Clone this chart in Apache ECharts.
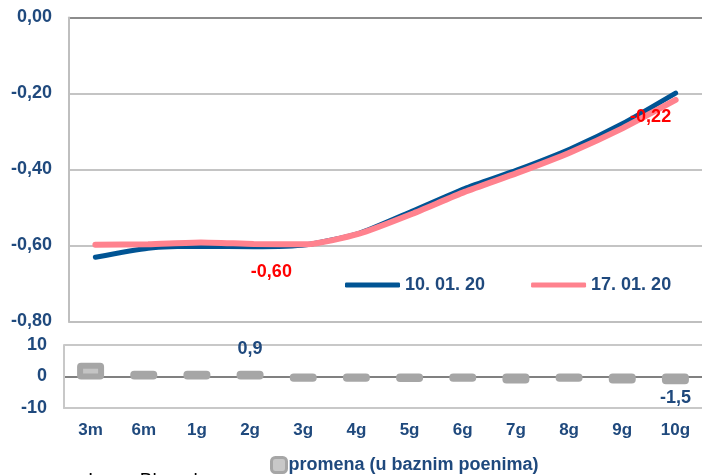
<!DOCTYPE html>
<html>
<head>
<meta charset="utf-8">
<script src="https://cdn.jsdelivr.net/npm/echarts@6/dist/echarts.min.js"></script>
<style>
html,body{margin:0;padding:0;background:#fff;}
#c{width:702px;height:475px;}
</style>
</head>
<body>
<div id="c"></div>
<script>
var categories = ['3m','6m','1g','2g','3g','4g','5g','6g','7g','8g','9g','10g'];
var series1Name = '10. 01. 20';
var series2Name = '17. 01. 20';
var series3Name = 'promena (u baznim poenima)';
var yield1 = [-0.631, -0.607, -0.602, -0.603, -0.598, -0.568, -0.510, -0.450, -0.401, -0.346, -0.279, -0.199];
var yield2 = [-0.598, -0.597, -0.592, -0.596, -0.597, -0.569, -0.517, -0.459, -0.409, -0.355, -0.291, -0.217];
var change = [3.4, 0.9, 0.9, 0.9, -0.7, -0.7, -0.8, -0.7, -1.3, -0.7, -1.3, -1.5];
var lineLabelIdx = [4, 11];
var barLabelIdx = [3, 11];
var sourceText = 'Izvor: Bloomberg';

var FONT = 'Liberation Sans, Arial, sans-serif';
var TXT = '#1F497D';

var pinkData = yield2.map(function (v, i) {
  var o = {value: v};
  if (lineLabelIdx.indexOf(i) >= 0) {
    o.label = {
      show: true, position: 'bottom',
      offset: i === 11 ? [-25, 3] : [-35, 14],
      color: '#FF0000', fontSize: 18, fontWeight: 'bold', fontFamily: FONT,
      formatter: function (p) { return p.value.toFixed(2).replace('.', ','); }
    };
  }
  return o;
});
var labelBarData = change.map(function (v, i) {
  var o = {value: v};
  if (barLabelIdx.indexOf(i) >= 0) {
    o.label = {
      show: true, position: v >= 0 ? 'top' : 'bottom',
      offset: v >= 0 ? [0, -11] : [0, 3],
      color: TXT, fontSize: 18, fontWeight: 'bold', fontFamily: FONT,
      formatter: function (p) { return p.value.toFixed(1).replace('.', ','); }
    };
  }
  return o;
});
var customBarData = change.map(function (v, i) { return [i, v]; });

var chart = echarts.init(document.getElementById('c'), null, {renderer: 'canvas'});
chart.setOption({
  animation: false,
  backgroundColor: '#fff',
  textStyle: {fontFamily: FONT},
  grid: [
    {left: 69, top: 17.5, width: 640, height: 304},
    {left: 64, top: 345, width: 644, height: 63}
  ],
  legend: [
    {
      data: [series1Name, series2Name],
      left: 340, top: 271, icon: 'roundRect',
      itemWidth: 55, itemHeight: 5, itemGap: 46, selectedMode: false,
      textStyle: {color: TXT, fontSize: 18, fontWeight: 'bold', fontFamily: FONT}
    },
    {
      data: [series3Name],
      left: 265, top: 451, icon: 'roundRect',
      itemWidth: 15, itemHeight: 15, itemGap: 4, selectedMode: false,
      itemStyle: {borderWidth: 3, borderColor: '#A6A6A6', color: '#C8C8C8'},
      textStyle: {color: TXT, fontSize: 18, fontWeight: 'bold', fontFamily: FONT, padding: [0, 0, 0, -3]}
    }
  ],
  xAxis: [
    {
      type: 'category', gridIndex: 0, data: categories, boundaryGap: true,
      axisLine: {onZero: false, lineStyle: {color: '#BFBFBF', width: 2}},
      axisTick: {show: false}, axisLabel: {show: false}
    },
    {
      type: 'category', gridIndex: 1, data: categories, boundaryGap: true,
      axisLine: {onZero: false, lineStyle: {color: '#C8C8C8', width: 2}},
      axisTick: {show: false},
      axisLabel: {color: TXT, fontSize: 17, fontWeight: 'bold', fontFamily: FONT, margin: 14}
    }
  ],
  yAxis: [
    {
      type: 'value', gridIndex: 0, min: -0.8, max: 0, interval: 0.2,
      axisLine: {show: true, lineStyle: {color: '#BFBFBF', width: 2}},
      axisTick: {show: false},
      splitLine: {show: true, lineStyle: {color: ['#C4C4C4', '#C4C4C4', '#C4C4C4', '#C4C4C4', '#8C8C8C'], width: 2}},
      axisLabel: {
        color: TXT, fontSize: 18, fontWeight: 'bold', fontFamily: FONT, margin: 17,
        formatter: function (v) { return v.toFixed(2).replace('.', ','); }
      }
    },
    {
      type: 'value', gridIndex: 1, min: -10, max: 10, interval: 10,
      axisLine: {show: true, lineStyle: {color: '#C8C8C8', width: 2}},
      axisTick: {show: false},
      splitLine: {show: true, lineStyle: {color: ['#C8C8C8', '#808080', '#C8C8C8'], width: 2}},
      axisLabel: {color: TXT, fontSize: 18, fontWeight: 'bold', fontFamily: FONT, margin: 17}
    }
  ],
  series: [
    {
      name: series1Name, type: 'line', xAxisIndex: 0, yAxisIndex: 0,
      data: yield1, smooth: 0.2, symbol: 'circle', symbolSize: 0, showSymbol: true,
      lineStyle: {color: '#005494', width: 5, cap: 'round'},
      itemStyle: {color: '#005494'}, z: 3
    },
    {
      name: series2Name, type: 'line', xAxisIndex: 0, yAxisIndex: 0,
      data: pinkData, smooth: 0.2, symbol: 'circle', symbolSize: 0, showSymbol: true,
      lineStyle: {color: '#FF828E', width: 6, cap: 'round'},
      itemStyle: {color: '#FF828E'}, z: 4
    },
    {
      name: series3Name, type: 'custom', xAxisIndex: 1, yAxisIndex: 1,
      data: customBarData, encode: {x: 0, y: 1},
      itemStyle: {color: '#C4C4C4', borderColor: '#A6A6A6'},
      z: 3,
      renderItem: function (params, api) {
        var p0 = api.coord([api.value(0), 0]);
        var p1 = api.coord([api.value(0), api.value(1)]);
        var w = 21;
        var top = Math.min(p0[1], p1[1]);
        var h = Math.abs(p0[1] - p1[1]);
        return {
          type: 'rect',
          shape: {x: p0[0] - w / 2, y: top, width: w, height: h, r: 1},
          style: {fill: '#C4C4C4', stroke: '#A6A6A6', lineWidth: 6, lineJoin: 'round'}
        };
      }
    },
    {
      name: '_labels', type: 'bar', xAxisIndex: 1, yAxisIndex: 1,
      data: labelBarData, barWidth: 22, z: 4, silent: true,
      itemStyle: {color: 'rgba(0,0,0,0)'}
    }
  ],
  graphic: [
    {
      type: 'text', left: 88, top: 471,
      style: {text: sourceText, fill: '#000', font: '19px ' + FONT}
    }
  ]
});
</script>
</body>
</html>
